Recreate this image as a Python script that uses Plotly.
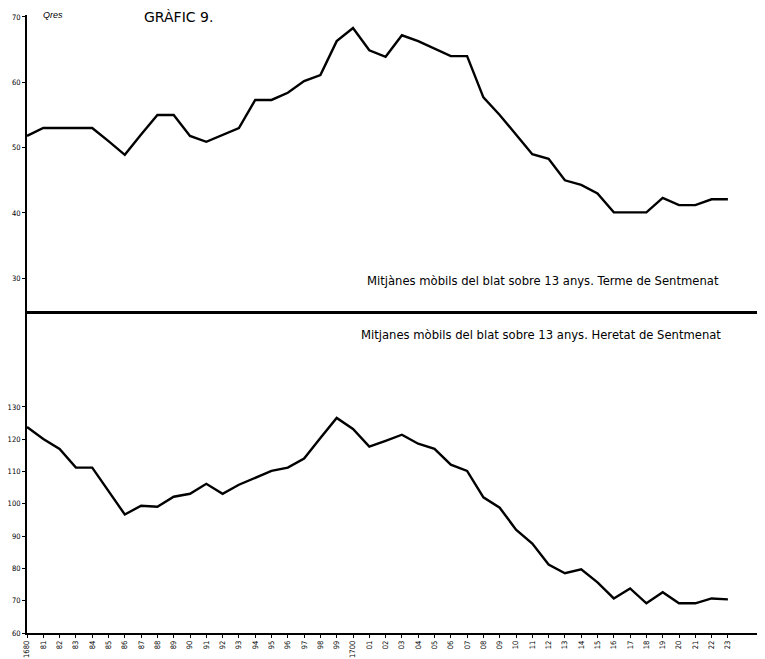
import plotly.graph_objects as go

years = list(range(1680, 1724))
year_labels = ["1680"] + [f"{y % 100:02d}" for y in range(1681, 1700)] + ["1700"] + [f"{y % 100:02d}" for y in range(1701, 1724)]

terme = [51.8, 53.0, 53.0, 53.0, 53.0, 51.0, 48.9, 52.0, 55.0, 55.0,
         51.8, 50.9, 52.0, 53.0, 57.3, 57.3, 58.4, 60.2, 61.1, 66.3,
         68.3, 64.9, 63.9, 67.2, 66.3, 65.2, 64.0, 64.0, 57.7, 55.0,
         52.0, 49.0, 48.3, 45.0, 44.3, 43.0, 40.1, 40.1, 40.1, 42.3,
         41.2, 41.2, 42.1, 42.1]

heretat = [123.8, 120.1, 117.0, 111.2, 111.2, 104.0, 96.7, 99.4, 99.1, 102.2,
           103.1, 106.2, 103.1, 105.9, 108.0, 110.2, 111.2, 114.0, 120.4, 126.6,
           123.2, 117.7, 119.5, 121.4, 118.6, 117.0, 112.1, 110.2, 102.0, 98.8,
           92.0, 87.7, 81.2, 78.5, 79.7, 75.7, 70.7, 73.8, 69.2, 72.6,
           69.2, 69.2, 70.7, 70.4]

top_ticks = [30, 40, 50, 60, 70]
bottom_ticks = [60, 70, 80, 90, 100, 110, 120, 130]

FONT = "Liberation Sans"
NFONT = "Liberation Sans Narrow, DejaVu Sans Condensed, Liberation Sans"
TFONT = "DejaVu Sans"
OFF = 8  # page body margin
W, H = 765 - OFF, 659 - OFF
L, R, T, B = 27 - OFF, 0, 15 - OFF, 659 - 633
pw = W - L - R
ph = H - T - B
split = (633 - 311) / ph

def px(x):
    return (x - OFF - L) / pw

def py(y):
    return (H - B - (y - OFF)) / ph

fig = go.Figure()
fig.add_trace(go.Scatter(x=years, y=terme, mode="lines", xaxis="x2", yaxis="y2",
                         line=dict(color="black", width=2.4), showlegend=False))
fig.add_trace(go.Scatter(x=years, y=heretat, mode="lines", xaxis="x", yaxis="y",
                         line=dict(color="black", width=2.4), showlegend=False))

xr = [1680, 1680 + (765 - 27) / 16.3]
fig.update_layout(
    width=W, height=H,
    margin=dict(l=L, r=R, t=T, b=B, pad=0),
    paper_bgcolor="white", plot_bgcolor="white",
    font=dict(family=FONT, color="black"),
    xaxis=dict(domain=[0, 1], range=xr, showgrid=False, zeroline=False, automargin=False,
               showline=True, linecolor="black", linewidth=1.5,
               ticks="outside", ticklen=3, tickwidth=1.2, tickcolor="black",
               tickmode="array", tickvals=years, ticktext=year_labels,
               tickangle=-90, tickfont=dict(size=7.5, family=NFONT, color="black"), anchor="y"),
    yaxis=dict(domain=[0, split], range=[60, 159.7], showgrid=False, zeroline=False,
               automargin=False,
               showline=True, linecolor="black", linewidth=2,
               ticks="outside", ticklen=3, tickwidth=1.2, tickcolor="black",
               tickmode="array", tickvals=bottom_ticks,
               tickfont=dict(size=7.5, family=NFONT, color="black"), anchor="x"),
    xaxis2=dict(domain=[0, 1], range=xr, showgrid=False, zeroline=False, automargin=False,
                showline=True, linecolor="black", linewidth=3,
                showticklabels=False, ticks="", anchor="y2"),
    yaxis2=dict(domain=[split, 1], range=[25, 70.3], showgrid=False, zeroline=False,
                automargin=False,
                showline=True, linecolor="black", linewidth=2,
                ticks="outside", ticklen=3, tickwidth=1.2, tickcolor="black",
                tickmode="array", tickvals=top_ticks,
                tickfont=dict(size=7.5, family=NFONT, color="black"), anchor="x2"),
    annotations=[
        dict(text="<i>Qres</i>", x=px(41), y=py(15), xref="paper", yref="paper",
             showarrow=False, font=dict(size=9, family=FONT), xanchor="left", yanchor="middle"),
        dict(text="GRÀFIC 9.", x=px(142), y=py(17), xref="paper", yref="paper",
             showarrow=False, font=dict(size=14, family=TFONT), xanchor="left", yanchor="middle"),
        dict(text="Mitjànes mòbils del blat sobre 13 anys. Terme de Sentmenat",
             x=px(721), y=py(281), xref="paper", yref="paper", showarrow=False,
             font=dict(size=11.6, family=TFONT), xanchor="right", yanchor="middle"),
        dict(text="Mitjanes mòbils del blat sobre 13 anys. Heretat de Sentmenat",
             x=px(723), y=py(335), xref="paper", yref="paper", showarrow=False,
             font=dict(size=11.6, family=TFONT), xanchor="right", yanchor="middle"),
    ],
)

fig.write_html("out.html")
